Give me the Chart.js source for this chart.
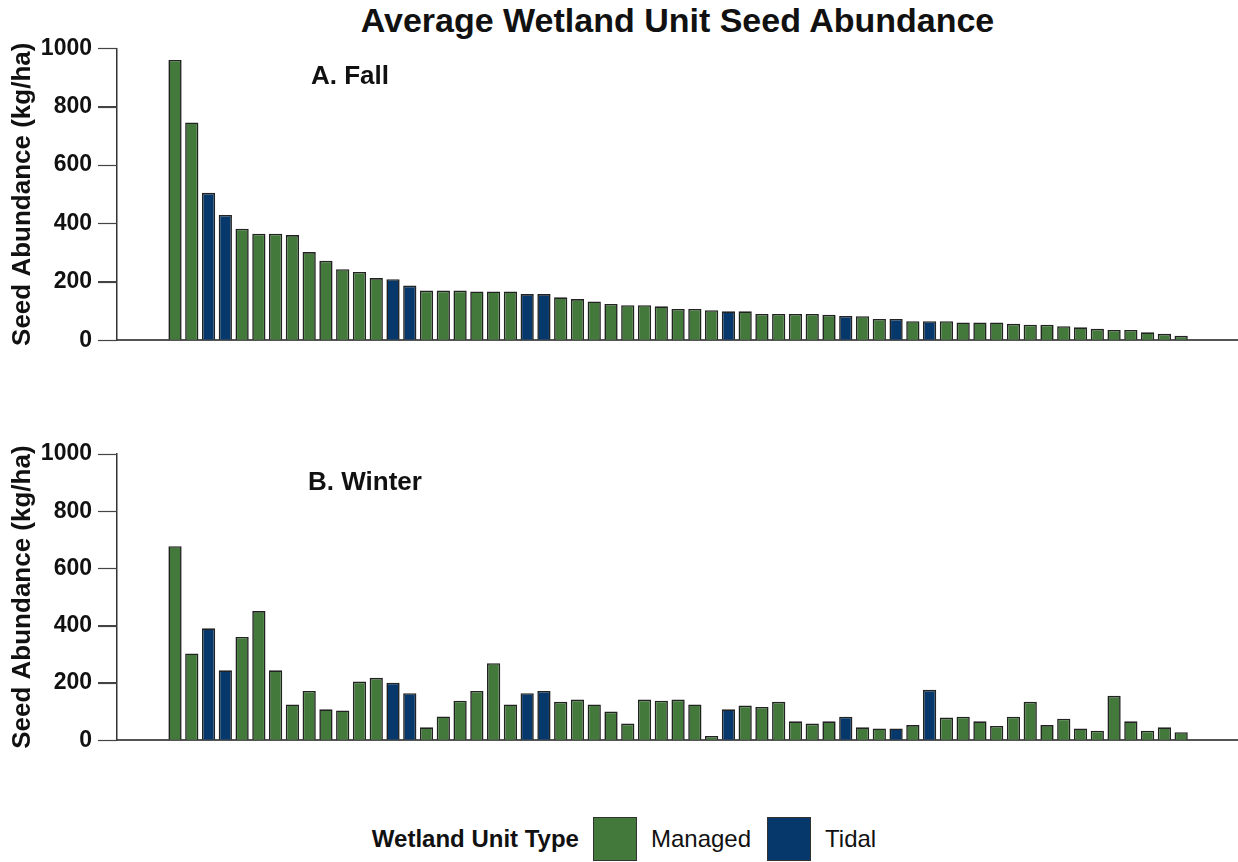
<!DOCTYPE html>
<html>
<head>
<meta charset="utf-8">
<script src="https://cdn.jsdelivr.net/npm/chart.js@4/dist/chart.umd.min.js"></script>
<style>
  body { margin: 0; background: #fff; font-family: "Liberation Sans", Arial, sans-serif; }
  #wrap { position: relative; width: 1238px; height: 862px; }
  .panel { position: absolute; left: 0; width: 1238px; height: 360px; }
  #titulo { position: absolute; left: 117px; width: 1121px; top: 1px; text-align: center;
            font-size: 34px; font-weight: bold; color: #111; }
  .etiqueta { position: absolute; font-size: 26px; font-weight: bold; color: #111; }
  #leyenda { position: absolute; left: 5px; width: 1238px; top: 816px; height: 46px;
             display: flex; justify-content: center; align-items: center; font-size: 24px; color: #111; }
  #leyenda .caja { width: 44px; height: 44px; border: 1px solid #333; box-sizing: border-box; margin: 0 14px; }
</style>
</head>
<body>
<div id="wrap">
  <div id="titulo">Average Wetland Unit Seed Abundance</div>
  <div class="panel" style="top:0"><canvas id="chartOtono"></canvas></div>
  <div class="panel" style="top:400px"><canvas id="chartInvierno"></canvas></div>
  <div class="etiqueta" style="left:311px; top:60px">A. Fall</div>
  <div class="etiqueta" style="left:308px; top:466px">B. Winter</div>
  <div id="leyenda">
    <b>Wetland Unit Type</b>
    <span class="caja" style="background:#437a3b"></span>
    <span style="margin-right:2px">Managed</span>
    <span class="caja" style="background:#06386b"></span>
    <span>Tidal</span>
  </div>
</div>
<script>
// ==========================
//  Datos
// ==========================
const unidades = Array.from({ length: 61 }, (_, i) => i + 1);

// M = Managed, T = Tidal (mismo orden en ambos paneles)
const tipoUnidad = [
  "M", "M", "T", "T", "M", "M", "M", "M", "M", "M", "M", "M", "M", "T", "T", "M",
  "M", "M", "M", "M", "M", "T", "T", "M", "M", "M", "M", "M", "M", "M", "M", "M",
  "M", "T", "M", "M", "M", "M", "M", "M", "T", "M", "M", "T", "M", "T", "M", "M",
  "M", "M", "M", "M", "M", "M", "M", "M", "M", "M", "M", "M", "M",
];

const semillasOtono = [
  960, 746, 505, 429, 382, 365, 365, 360, 302, 272, 243, 234, 213, 209, 187, 170,
  170, 170, 167, 167, 167, 158, 158, 147, 141, 133, 124, 120, 120, 116, 107, 107,
  103, 99, 99, 90, 90, 90, 90, 87, 83, 82, 73, 73, 65, 65, 65, 61,
  61, 61, 56, 53, 53, 48, 44, 39, 35, 35, 27, 22, 15,
];

const semillasInvierno = [
  678, 303, 391, 244, 361, 451, 244, 125, 172, 108, 104, 205, 218, 201, 164, 45,
  83, 138, 172, 269, 125, 164, 172, 134, 142, 125, 100, 58, 142, 138, 142, 125,
  15, 108, 121, 116, 134, 66, 58, 66, 82, 45, 41, 41, 53, 176, 79, 82,
  66, 50, 82, 134, 53, 75, 41, 33, 155, 66, 33, 45, 28,
];

const ticksY = [0, 200, 400, 600, 800, 1000];

const colores = { M: "#437a3b", T: "#06386b" };

// marcas del eje y
const marcasY = {
  id: "marcasY",
  afterDraw(chart) {
    const y = chart.scales.y;
    const c = chart.ctx;
    c.save();
    c.strokeStyle = "#444";
    c.lineWidth = 1.2;
    ticksY.forEach((v) => {
      const py = Math.round(y.getPixelForValue(v)) + 0.5;
      c.beginPath();
      c.moveTo(y.right - 19, py);
      c.lineTo(y.right, py);
      c.stroke();
    });
    c.restore();
  },
};

// ==========================
//  Crear un panel
// ==========================
function crearPanel(id, valores, padTop, padBottom) {
  const ctx = document.getElementById(id).getContext("2d");
  return new Chart(ctx, {
    type: "bar",
    data: {
      datasets: [
        {
          data: unidades.map((u, i) => ({ x: u, y: valores[i] })),
          backgroundColor: tipoUnidad.map((t) => colores[t]),
          borderColor: "#222",
          borderWidth: 1.6,
          categoryPercentage: 1,
          barPercentage: 0.79,
        },
      ],
    },
    plugins: [marcasY],
    options: {
      responsive: false,
      animation: false,
      events: [],
      layout: { padding: { top: padTop, bottom: padBottom, left: 0, right: 0 } },
      plugins: { legend: { display: false }, tooltip: { enabled: false } },
      scales: {
        x: {
          type: "linear",
          offset: false,
          min: -2.46,
          max: 64.39,
          ticks: { display: false },
          grid: { display: false },
          border: { display: true, color: "#555", width: 2 },
          afterFit: (s) => { s.height = 0; },
        },
        y: {
          min: 0,
          max: 1000,
          afterBuildTicks: (s) => { s.ticks = ticksY.map((v) => ({ value: v })); },
          ticks: {
            color: "#111",
            padding: 6,
            callback: (v) => String(v),
            font: { family: "Liberation Sans", size: 23, weight: "bold" },
          },
          grid: { display: true, drawOnChartArea: false, drawTicks: true, tickLength: 19, color: "#444", tickColor: "#444" },
          border: { display: true, color: "#333", width: 1.5 },
          title: {
            display: true,
            text: "Seed Abundance (kg/ha)",
            color: "#111",
            padding: { top: 7, bottom: 0 },
            font: { family: "Liberation Sans", size: 26, weight: "bold", lineHeight: 1.2 },
          },
          afterFit: (s) => { s.width = 117; },
        },
      },
    },
  });
}

document.querySelectorAll("canvas").forEach((c) => { c.width = 1238; c.height = 360; });
crearPanel("chartOtono", semillasOtono, 48.3, 16.7);
crearPanel("chartInvierno", semillasInvierno, 54, 13.3);
</script>
</body>
</html>
